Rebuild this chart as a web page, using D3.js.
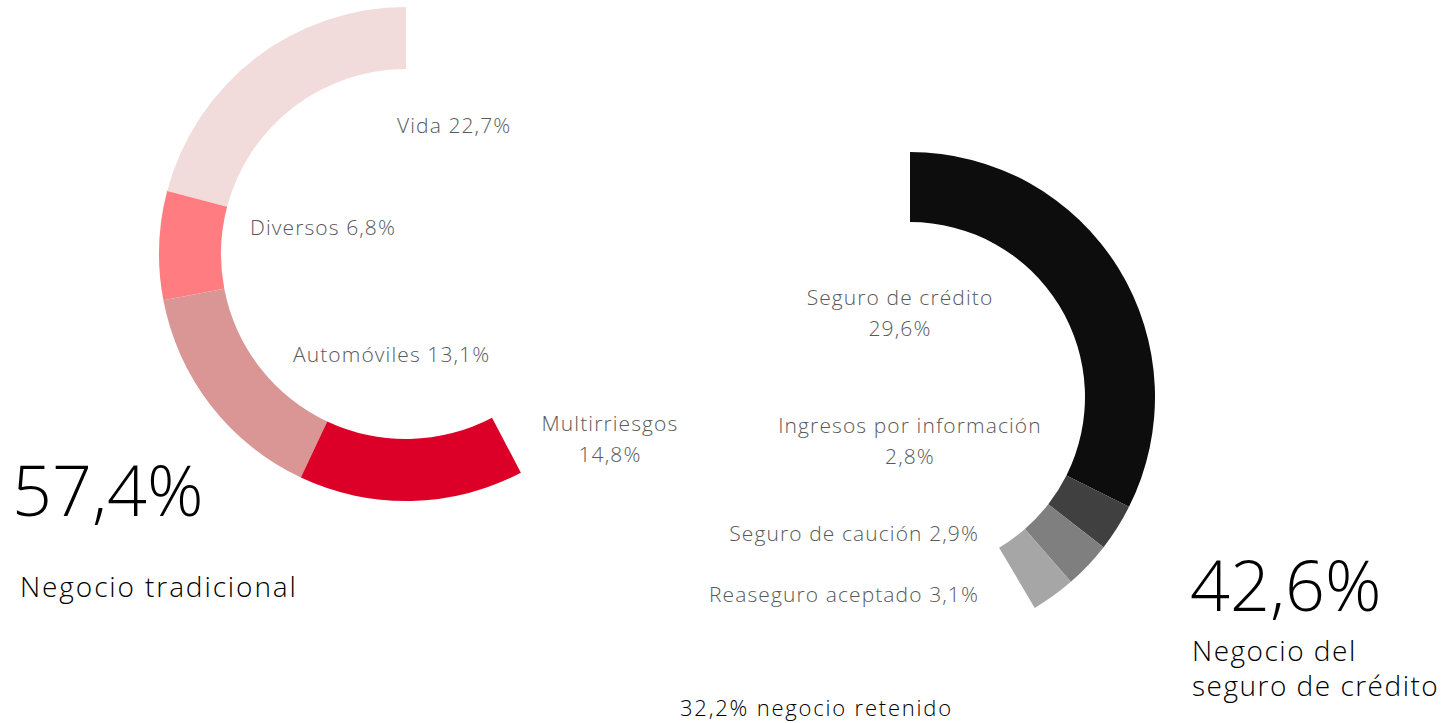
<!DOCTYPE html>
<html>
<head>
<meta charset="utf-8">
<script src="https://cdn.jsdelivr.net/npm/d3@7"></script>
<style>
  body { margin: 0; background: #fff; }
  text { font-family: "Open Sans", Lato, sans-serif; font-weight: 300; }
</style>
</head>
<body>
<svg width="1448" height="723"></svg>
<script>
// traditional business (left ring)
var tradCategories = ["Vida", "Diversos", "Automóviles", "Multirriesgos"],
    tradPct = ["22,7%", "6,8%", "13,1%", "14,8%"],
    tradShare = [20.9, 7.1, 15.0, 14.7];   // arc sizes as drawn, % of full circle

// credit insurance business (right ring)
var creditCategories = ["Seguro de crédito", "Ingresos por información", "Seguro de caución", "Reaseguro aceptado"],
    creditPct = ["29,6%", "2,8%", "2,9%", "3,1%"],
    creditShare = [32.4, 3.1, 3.1, 2.9];

var totals = ["57,4%", "42,6%", "32,2%"];

var tradColors = ["#f2dcdb", "#ff7c80", "#d99694", "#dc0028"],
    creditColors = ["#0d0d0d", "#404040", "#7f7f7f", "#a6a6a6"];

var svg = d3.select("svg");

var angle = d3.scaleLinear().domain([0, 100]).range([0, 2 * Math.PI]);

function ring(cx, cy, r0, r1, shares, colors, dir) {
  var pie = d3.pie().sort(null).value(function(d) { return d; })
      .startAngle(0)
      .endAngle(dir * angle(d3.sum(shares)));
  var arc = d3.arc().innerRadius(r0).outerRadius(r1);
  svg.append("g")
      .attr("transform", "translate(" + cx + "," + cy + ")")
    .selectAll("path")
    .data(pie(shares))
    .enter().append("path")
      .attr("d", arc)
      .attr("fill", function(d, i) { return colors[i]; });
}

ring(406, 254, 185, 247, tradShare, tradColors, -1);
ring(910, 397, 175, 245, creditShare, creditColors, 1);

// segment labels
var tradPos = [
  {x: 397, y: 133, anchor: "start", split: false},
  {x: 250, y: 235, anchor: "start", split: false},
  {x: 293, y: 362, anchor: "start", split: false},
  {x: 610, y: 431, anchor: "middle", split: true}
];
var creditPos = [
  {x: 900, y: 305, anchor: "middle", split: true},
  {x: 910, y: 433, anchor: "middle", split: true},
  {x: 979, y: 541, anchor: "end", split: false},
  {x: 979, y: 602, anchor: "end", split: false}
];

function labels(cats, pcts, pos) {
  cats.forEach(function(c, i) {
    var p = pos[i];
    var t = svg.append("text")
        .attr("x", p.x).attr("y", p.y)
        .attr("text-anchor", p.anchor)
        .attr("font-size", 21)
        .attr("letter-spacing", 1.1)
        .attr("fill", "#595959");
    if (p.split) {
      t.append("tspan").attr("x", p.x).text(c);
      t.append("tspan").attr("x", p.x).attr("dy", 31).text(pcts[i]);
    } else {
      t.text(c + " " + pcts[i]);
    }
  });
}
labels(tradCategories, tradPct, tradPos);
labels(creditCategories, creditPct, creditPos);

// headline totals
svg.append("text").attr("x", 12).attr("y", 516)
    .attr("font-size", 70).attr("fill", "#000").text(totals[0]);
svg.append("text").attr("x", 20).attr("y", 597)
    .attr("font-size", 28).attr("letter-spacing", 1.9)
    .attr("fill", "#000").text("Negocio tradicional");

svg.append("text").attr("x", 1190).attr("y", 611)
    .attr("font-size", 70).attr("fill", "#000").text(totals[1]);
var sub = svg.append("text").attr("x", 1192).attr("y", 661)
    .attr("font-size", 28).attr("letter-spacing", 1.5).attr("fill", "#000");
sub.append("tspan").attr("x", 1192).text("Negocio del");
sub.append("tspan").attr("x", 1192).attr("dy", 35).text("seguro de crédito");

svg.append("text").attr("x", 680).attr("y", 716)
    .attr("font-size", 22).attr("letter-spacing", 1.8)
    .attr("fill", "#000").text(totals[2] + " negocio retenido");
</script>
</body>
</html>
